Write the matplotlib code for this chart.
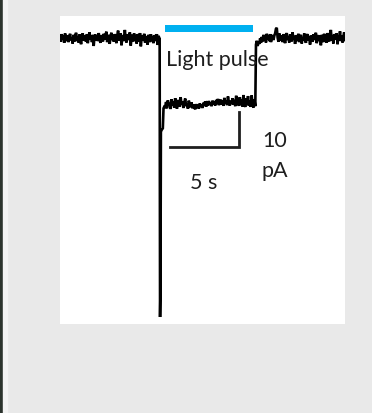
import numpy as np
import matplotlib
matplotlib.use("Agg")
import matplotlib.pyplot as plt
from matplotlib.patches import Rectangle

# ---- data (time in s, current in pA) ----
pre_I = [0.6, -0.8, 1.4, -0.2, 0.9, -1.1, 1.6, 0.2, -0.6, 1.1, -0.9, 0.7, 1.5, -0.4, 0.3, -1.3,
         1.2, 0.1, -0.7, 1.8, -0.3, 0.8, -1.0, 1.3, 0.4, -1.5, 0.9, 1.6, -0.5, 0.2, 1.0, -0.8,
         1.4, -1.2, 0.6, 1.9, -0.1, 0.5, -0.9, 1.2, -2.0, 0.7, 1.3, -0.4, 0.9, -0.6, 1.7, 0.0,
         -1.1, 1.1, 0.4, -0.7, 1.5, -0.2, 0.8, 2.1, -0.9, 0.3, 1.2, -1.4, 0.6, 1.8, -0.3, 0.9,
         -0.8, 1.4, 0.2, -1.2, 1.0, 2.4, -0.5, 0.7, 1.6, -1.8, 0.4, 1.1, -0.6, 2.6, 0.1, -1.0,
         1.3, -0.3, 0.8, 1.9, -1.9, 0.5, 1.2, -0.7, 1.6, -0.2, 0.9, -1.3, 1.4, 0.3, -0.8, 1.7,
         -2.1, 0.6, 1.0, -0.4, 1.5, -1.0, 0.8, 0.2, -1.6, 1.2, 0.5, -0.9, 1.3, -0.3, 0.7, -1.2,
         1.1, 0.4, -0.6, 1.4, -1.7, 0.9, 0.2]
pre_t_range = (0.0, 7.2)

transient_t = [7.22, 7.25, 7.28, 7.31, 7.36, 7.45, 7.50, 7.56]
transient_I = [0.3, -79.4, -72.0, -26.5, -26.0, -25.5, -19.8, -19.3]

plateau_I = [-19.4, -18.0, -19.8, -17.5, -19.1, -18.3, -20.0, -17.2, -18.9, -17.8, -19.6, -16.9,
             -18.7, -19.9, -17.4, -18.5, -19.3, -16.6, -18.8, -17.9, -19.7, -18.2, -17.0, -19.2,
             -18.4, -19.9, -17.6, -18.9, -19.5, -18.1, -19.8, -18.7, -19.3, -20.1, -18.6, -19.6,
             -18.9, -19.9, -18.4, -19.4, -18.8, -19.7, -18.2, -19.1, -17.8, -19.3, -18.5, -19.0,
             -17.7, -18.8, -18.3, -19.2, -17.6, -18.6, -17.9, -19.0, -17.4, -18.5, -17.1, -18.9,
             -18.0, -17.3, -18.7, -17.5, -19.1, -16.8, -18.4, -17.7, -18.9, -16.4, -18.2, -19.0,
             -17.6, -18.6, -16.9, -18.8, -17.4, -19.2, -16.2, -18.5, -17.8, -19.1, -16.6, -18.9,
             -17.2, -19.3, -16.0, -18.6, -19.4, -17.0, -18.8, -16.3, -19.1, -17.5, -19.4, -16.1,
             -18.9, -19.6, -17.3, -19.2]
plateau_t_range = (7.62, 14.15)

post_I = [-1.6, -0.5, -2.0, -0.8, -1.4, 0.2, -1.1, 0.6, -0.7, 1.2, -0.4, 0.8, -1.0, 1.5, -0.2,
          0.9, -0.6, 1.4, -0.9, 0.7, 1.1, -0.3, 0.9, 1.6, 2.9, 3.2, 0.4, -0.8, 1.6, 0.2, -0.5,
          1.1, -0.9, 1.4, 0.1, -1.2, 0.9, 1.7, -0.3, 0.6, -1.0, 1.3, 0.4, -0.7, 1.9, -0.2, 0.8,
          -1.4, 1.1, 0.3, -0.6, 1.5, -0.9, 0.7, 1.2, -1.3, 0.5, -0.4, 1.6, 0.1, -1.1, 0.9, 1.4,
          -0.5, 0.6, -1.6, 1.0, 0.2, -0.8, 1.3, -0.3, 0.7, 1.8, -1.2, 0.4, 1.1, -0.6, 0.8, -1.8,
          1.2, 0.3, -0.9, 1.5, -0.4, 0.6, -1.1, 1.7, 0.2, -0.7, 1.3, 2.6, -0.5, 0.9, -1.3, 1.4,
          0.5, -0.2, 1.6, -1.5, 0.8, 0.1, 2.2, -0.6, 1.0, -1.0, 0.7, 1.9, -0.3]
post_t_range = (14.2, 20.65)

light_on, light_off = 7.6, 14.0
scale_t = 5      # s
scale_I = 10     # pA
labels = {"light": "Light pulse", "time": "5 s", "cur_top": "10", "cur_bot": "pA"}

# ---- build the trace ----
t = np.concatenate([
    np.linspace(*pre_t_range, len(pre_I)),
    transient_t,
    np.linspace(*plateau_t_range, len(plateau_I)),
    np.linspace(*post_t_range, len(post_I)),
])
I = np.concatenate([pre_I, transient_I, plateau_I, post_I])

W, H = 372, 414
fig = plt.figure(figsize=(W / 100, H / 100), dpi=100)
fig.patch.set_facecolor("#e9e9e9")
# screenshot edge strips
fig.add_artist(Rectangle((0, 0), 2.5 / W, 1, transform=fig.transFigure, color="#2b332d", zorder=0))
fig.add_artist(Rectangle((2.5 / W, 0), 4 / W, 1, transform=fig.transFigure, color="#f3f3f3", zorder=0))

ax = fig.add_axes([60 / W, (H - 325) / H, 285 / W, 308 / H])
ax.set_facecolor("white")
for s in ax.spines.values():
    s.set_visible(False)
ax.set_xticks([])
ax.set_yticks([])
ax.set_xlim(0, 20.65)
ax.set_ylim(-81.4, 6.57)

ax.plot(t, I, color="black", lw=1.9, solid_joinstyle="miter")

# light pulse bar
ax.add_patch(Rectangle((light_on, 2.0), light_off - light_on, 2.0, color="#00b0f0", lw=0))

font = "Lato"
tc = "#1e1e1e"
fs = 15.5
ax.text(7.68, -7.4, labels["light"], fontsize=fs, family=font, color=tc, va="baseline", ha="left")

# scale bars
x0, y0 = 7.97, -30.9
ax.plot([x0, x0 + scale_t, x0 + scale_t], [y0, y0, y0 + scale_I], color="#1e1e1e", lw=2,
        solid_joinstyle="miter")
ax.text(9.45, -42.6, labels["time"], fontsize=fs, family=font, color=tc, va="baseline", ha="left")
ax.text(14.68, -30.6, labels["cur_top"], fontsize=fs, family=font, color=tc, va="baseline", ha="left")
ax.text(14.62, -39.1, labels["cur_bot"], fontsize=fs, family=font, color=tc, va="baseline", ha="left")

fig.savefig("out.png", dpi=100, facecolor=fig.get_facecolor())
